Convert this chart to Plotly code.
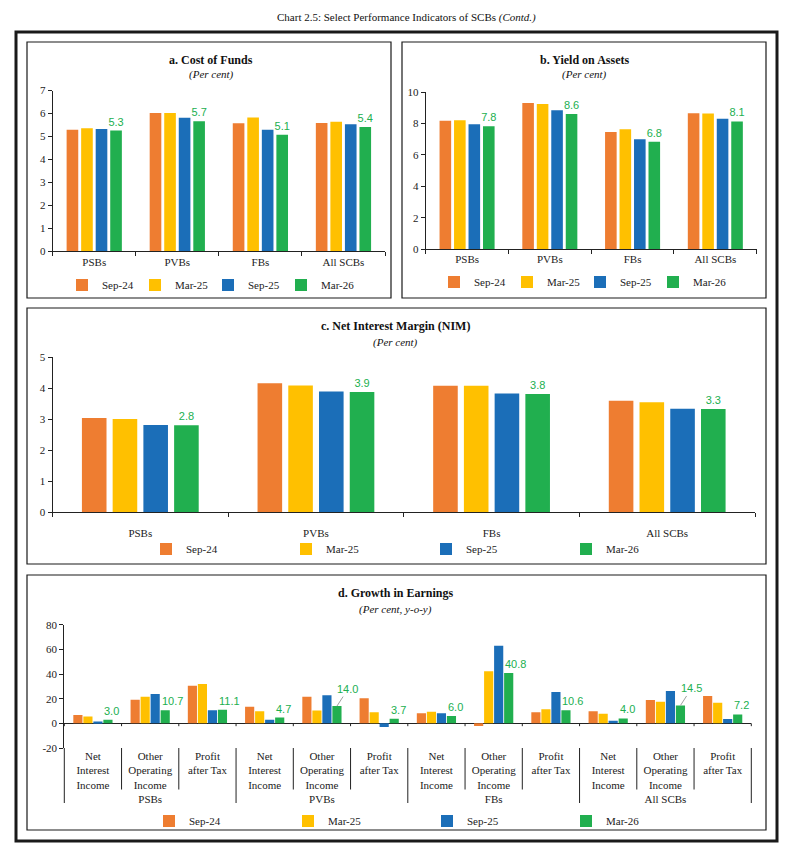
import plotly.graph_objects as go

# ---------------- data ----------------
SERIES = ["Sep-24", "Mar-25", "Sep-25", "Mar-26"]
COLORS = ["#EE7D31", "#FFC000", "#1B6EB8", "#21AF4F"]

BANKS = ["PSBs", "PVBs", "FBs", "All SCBs"]

# a. Cost of Funds (per cent)
COF_SEP24 = [5.29, 6.02, 5.58, 5.59]
COF_MAR25 = [5.36, 6.02, 5.83, 5.64]
COF_SEP25 = [5.33, 5.81, 5.29, 5.53]
COF_MAR26 = [5.26, 5.66, 5.08, 5.41]

# b. Yield on Assets (per cent)
YOA_SEP24 = [8.19, 9.32, 7.47, 8.66]
YOA_MAR25 = [8.21, 9.26, 7.64, 8.64]
YOA_SEP25 = [7.96, 8.85, 7.00, 8.32]
YOA_MAR26 = [7.84, 8.62, 6.84, 8.14]

# c. Net Interest Margin (per cent)
NIM_SEP24 = [3.04, 4.16, 4.08, 3.60]
NIM_MAR25 = [3.01, 4.09, 4.08, 3.55]
NIM_SEP25 = [2.82, 3.90, 3.83, 3.34]
NIM_MAR26 = [2.81, 3.88, 3.82, 3.33]

# d. Growth in Earnings (per cent, y-o-y)
GE_OUTER = ["PSBs"] * 3 + ["PVBs"] * 3 + ["FBs"] * 3 + ["All SCBs"] * 3
GE_INNER = ["Net<br>Interest<br>Income", "Other<br>Operating<br>Income", "Profit<br>after Tax"] * 4
GE_SEP24 = [6.8, 19.2, 30.4, 13.4, 21.6, 20.3, 8.2, -2.2, 9.0, 9.9, 18.9, 22.2]
GE_MAR25 = [5.5, 21.6, 32.0, 9.9, 10.4, 9.0, 9.3, 42.2, 11.5, 7.7, 17.5, 16.7]
GE_SEP25 = [1.4, 23.8, 10.7, 3.0, 22.7, -3.0, 8.2, 63.0, 25.5, 2.2, 26.3, 3.6]
GE_MAR26 = [3.0, 10.7, 11.1, 4.7, 14.0, 3.7, 6.0, 40.8, 10.6, 4.0, 14.5, 7.2]
GE_LEADER_IDX = [4, 10]  # labels drawn with a leader line
GE_YTICKS = [-20, 0, 20, 40, 60, 80]

# ---------------- helpers ----------------
W, H = 788, 854
SERIF = "Liberation Serif"
SANS = "Liberation Sans"
GREEN = COLORS[3]
D_BAR_W = 0.16
D_GREEN_CENTER = 0.2625  # offset of 4th bar centre inside its category


def fx(p):
    return p / W


def fy(p):
    return 1 - p / H


fig = go.Figure()

panels = [
    ("x", "y", "legend", [COF_SEP24, COF_MAR25, COF_SEP25, COF_MAR26]),
    ("x2", "y2", "legend2", [YOA_SEP24, YOA_MAR25, YOA_SEP25, YOA_MAR26]),
    ("x3", "y3", "legend3", [NIM_SEP24, NIM_MAR25, NIM_SEP25, NIM_MAR26]),
]
for xa, ya, lg, vals in panels:
    for k, (name, col, v) in enumerate(zip(SERIES, COLORS, vals)):
        last = k == 3
        fig.add_trace(go.Bar(
            x=BANKS, y=v, name=name, marker_color=col, xaxis=xa, yaxis=ya,
            legend=lg, marker_line_width=0,
            texttemplate="%{y:.1f}" if last else None,
            textposition="outside" if last else "none",
            textfont=dict(family=SANS, size=11, color=GREEN),
            constraintext="none", cliponaxis=False,
        ))

ge_vals = [GE_SEP24, GE_MAR25, GE_SEP25, GE_MAR26]
for k, (name, col, v) in enumerate(zip(SERIES, COLORS, ge_vals)):
    fig.add_trace(go.Bar(
        x=[GE_OUTER, GE_INNER], y=v, name=name, marker_color=col,
        xaxis="x4", yaxis="y4", legend="legend4", width=D_BAR_W,
        marker_line_width=0, cliponaxis=False,
    ))

# ---------------- axes ----------------
tickfont = dict(family=SERIF, size=11, color="#222")
xcommon = dict(type="category", showline=True, linecolor="#222", linewidth=1,
               ticks="outside", tickson="boundaries", ticklen=4, tickcolor="#222",
               tickfont=tickfont, showgrid=False, zeroline=False, fixedrange=True,
               automargin=False)
ycommon = dict(showline=True, linecolor="#222", linewidth=1, ticks="outside",
               ticklen=4, tickcolor="#222", tickfont=tickfont, showgrid=False,
               fixedrange=True, automargin=False)

fig.update_layout(
    xaxis=dict(domain=[fx(52.7), fx(385)], anchor="y", **xcommon),
    yaxis=dict(domain=[fy(251.4), fy(90.5)], anchor="x", range=[0, 7], dtick=1,
               zeroline=False, **ycommon),
    xaxis2=dict(domain=[fx(425.7), fx(756.7)], anchor="y2", **xcommon),
    yaxis2=dict(domain=[fy(249), fy(92.3)], anchor="x2", range=[0, 10], dtick=2,
                zeroline=False, **ycommon),
    xaxis3=dict(domain=[fx(52.5), fx(755)], anchor="y3", ticklabelstandoff=10, **xcommon),
    yaxis3=dict(domain=[fy(512.3), fy(357.3)], anchor="x3", range=[0, 5], dtick=1,
                zeroline=False, **ycommon),
    xaxis4=dict(domain=[fx(64.3), fx(751.3)], anchor="y4", type="multicategory",
                showline=False, ticks="", showdividers=False, tickfont=tickfont,
                automargin=False,
                showgrid=False, zeroline=False, fixedrange=True),
    yaxis4=dict(domain=[fy(748), fy(624.7)], anchor="x4", range=[-20, 80],
                tickvals=GE_YTICKS, ticktext=[str(t) for t in GE_YTICKS],
                zeroline=True, zerolinecolor="#222", zerolinewidth=1, **ycommon),
)

# ---------------- legends ----------------
def legend(x, y, ew):
    return dict(orientation="h", x=fx(x), y=fy(y), xref="container", yref="container",
                xanchor="left", yanchor="middle",
                entrywidth=ew, entrywidthmode="pixels", itemwidth=30,
                font=dict(family=SERIF, size=11, color="#222"),
                bgcolor="rgba(0,0,0,0)", borderwidth=0, itemclick=False,
                itemdoubleclick=False, traceorder="normal")


fig.update_layout(
    legend=legend(62, 285, 28),
    legend2=legend(434, 282, 28),
    legend3=legend(146, 549, 95),
    legend4=legend(149, 821, 94),
)

# ---------------- titles / annotations ----------------
ann = []


def text(x, y, t, size=11, bold=False, italic=False, family=SERIF):
    s = t
    if bold:
        s = f"<b>{s}</b>"
    if italic:
        s = f"<i>{s}</i>"
    ann.append(dict(x=fx(x), y=fy(y), xref="paper", yref="paper", text=s,
                    showarrow=False, xanchor="center", yanchor="middle",
                    font=dict(family=family, size=size, color="#111")))


text(406, 17, "Chart 2.5: Select Performance Indicators of SCBs <i>(Contd.)</i>", size=11)
text(211, 59.5, "a. Cost of Funds", size=12, bold=True)
text(211, 75, "(Per cent)", size=11, italic=True)
text(584, 59.5, "b. Yield on Assets", size=12, bold=True)
text(584, 75, "(Per cent)", size=11, italic=True)
text(396, 326, "c. Net Interest Margin (NIM)", size=12, bold=True)
text(396, 342, "(Per cent)", size=11, italic=True)
text(395, 593, "d. Growth in Earnings", size=12, bold=True)
text(395, 609, "(Per cent, y-o-y)", size=11, italic=True)

# data labels of the Mar-26 series in panel d
for i, v in enumerate(GE_MAR26):
    if i in GE_LEADER_IDX:
        ann.append(dict(x=i + D_GREEN_CENTER, y=v, xref="x4", yref="y4",
                        text=f"{v:.1f}", showarrow=True, arrowhead=0,
                        arrowwidth=1, arrowcolor="#A0A0A0", ax=11, ay=-17,
                        font=dict(family=SANS, size=11, color=GREEN)))
    else:
        ann.append(dict(x=i + D_GREEN_CENTER - D_BAR_W / 2, y=v, xref="x4", yref="y4",
                        text=f"{v:.1f}", showarrow=False, xanchor="left",
                        yanchor="bottom", xshift=-1, yshift=1,
                        font=dict(family=SANS, size=11, color=GREEN)))

fig.update_layout(annotations=ann)

# ---------------- frames and separators ----------------
shapes = []


def rect(x0, y0, x1, y1, w):
    shapes.append(dict(type="rect", xref="paper", yref="paper",
                       x0=fx(x0), x1=fx(x1), y0=fy(y1), y1=fy(y0),
                       line=dict(color="#1a1a1a", width=w), layer="below"))


rect(16, 32, 777, 841, 3)
rect(27, 42, 391, 298, 1.2)
rect(402, 42, 766, 298, 1.2)
rect(27, 308, 766, 564, 1.2)
rect(27, 575, 766, 830, 1.2)

n = len(GE_INNER)
grp = GE_OUTER.count(GE_OUTER[0])
for i in range(n + 1):
    xf = i / n
    outer = i % grp == 0
    shapes.append(dict(type="line", xref="x4 domain", yref="paper", x0=xf, x1=xf,
                       y0=fy(748), y1=fy(803 if outer else 789.5),
                       line=dict(color="#222", width=1)))
    shapes.append(dict(type="line", xref="x4 domain", yref="y4", x0=xf, x1=xf,
                       y0=0, y1=-2.3, line=dict(color="#222", width=1)))

fig.update_layout(
    shapes=shapes, width=W, height=H,
    margin=dict(l=0, r=0, t=0, b=0, autoexpand=False),
    barmode="group", bargap=0.3, bargroupgap=0.2,
    plot_bgcolor="white", paper_bgcolor="white", showlegend=True,
)

fig.write_html("out.html")
